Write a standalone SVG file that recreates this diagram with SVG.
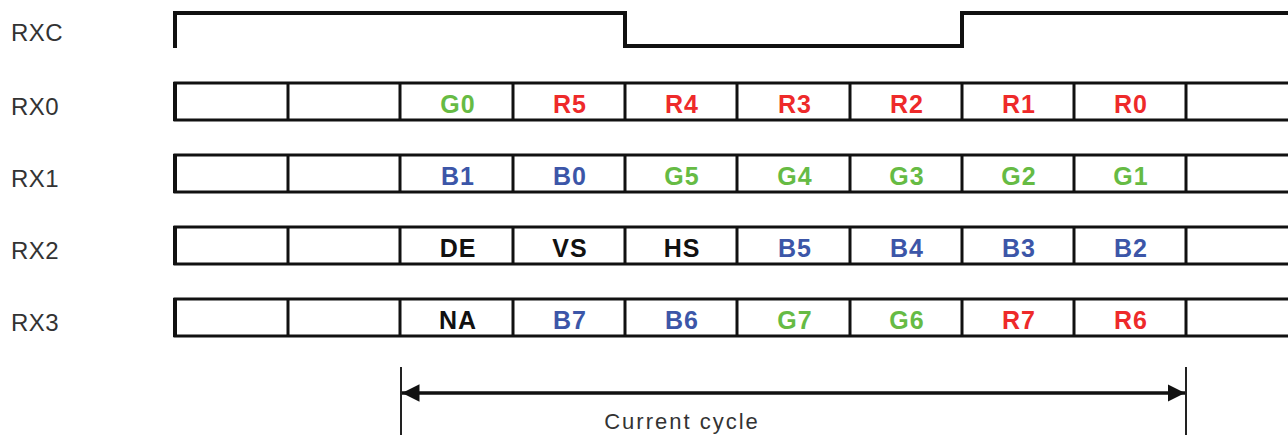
<svg xmlns="http://www.w3.org/2000/svg" width="1288" height="435" viewBox="0 0 1288 435">
  <style>
    .sig { font-family: "Liberation Sans", Arial, sans-serif; font-size: 24px; letter-spacing: 0.5px; fill: #333; }
    .cell { fill: none; stroke: #111; stroke-width: 3; }
    .edge { stroke: #111; stroke-width: 4; }
    .bit { font-family: "Liberation Sans", Arial, sans-serif; font-size: 25px; font-weight: bold; letter-spacing: 1px; text-anchor: middle; }
    .g { fill: #66bb44; }
    .r { fill: #ee2a2a; }
    .b { fill: #3c56a8; }
    .k { fill: #111; }
    .clk { fill: none; stroke: #111; stroke-width: 4; }
    .tick { stroke: #222; stroke-width: 2; }
    .span { stroke: #111; stroke-width: 3.5; }
    .caption { font-family: "Liberation Sans", Arial, sans-serif; font-size: 22px; letter-spacing: 2px; fill: #333; text-anchor: middle; }
  </style>
  <defs>
    <marker id="head" markerWidth="6" markerHeight="6" refX="5" refY="3" orient="auto-start-reverse" markerUnits="strokeWidth">
      <path d="M0,0.5 L5,3 L0,5.5 Z" fill="#111"/>
    </marker>
    <!-- one data lane: open-ended box with cell dividers -->
    <g id="lane">
      <path class="cell" d="M1288,0 H175 V37 H1288"/>
      <line class="edge" x1="175" y1="-1" x2="175" y2="38"/>
      <path class="cell" d="M288,0 V37 M400,0 V37 M513,0 V37 M625,0 V37 M737,0 V37 M850,0 V37 M962,0 V37 M1074,0 V37 M1186,0 V37"/>
    </g>
  </defs>

  <rect width="1288" height="435" fill="#fff"/>

  <!-- clock -->
  <g id="rxc">
    <text class="sig" x="11" y="41">RXC</text>
    <path class="clk" d="M175,48 V13 H625 V46 H962 V13 H1288"/>
  </g>

  <g id="rx0" transform="translate(0,83)">
    <use href="#lane"/>
    <text class="sig" x="11" y="32">RX0</text>
    <text class="bit g" x="458" y="30">G0</text>
    <text class="bit r" x="570" y="30">R5</text>
    <text class="bit r" x="682" y="30">R4</text>
    <text class="bit r" x="795" y="30">R3</text>
    <text class="bit r" x="907" y="30">R2</text>
    <text class="bit r" x="1019" y="30">R1</text>
    <text class="bit r" x="1131" y="30">R0</text>
  </g>

  <g id="rx1" transform="translate(0,155)">
    <use href="#lane"/>
    <text class="sig" x="11" y="32">RX1</text>
    <text class="bit b" x="458" y="30">B1</text>
    <text class="bit b" x="570" y="30">B0</text>
    <text class="bit g" x="682" y="30">G5</text>
    <text class="bit g" x="795" y="30">G4</text>
    <text class="bit g" x="907" y="30">G3</text>
    <text class="bit g" x="1019" y="30">G2</text>
    <text class="bit g" x="1131" y="30">G1</text>
  </g>

  <g id="rx2" transform="translate(0,227)">
    <use href="#lane"/>
    <text class="sig" x="11" y="32">RX2</text>
    <text class="bit k" x="458" y="30">DE</text>
    <text class="bit k" x="570" y="30">VS</text>
    <text class="bit k" x="682" y="30">HS</text>
    <text class="bit b" x="795" y="30">B5</text>
    <text class="bit b" x="907" y="30">B4</text>
    <text class="bit b" x="1019" y="30">B3</text>
    <text class="bit b" x="1131" y="30">B2</text>
  </g>

  <g id="rx3" transform="translate(0,299)">
    <use href="#lane"/>
    <text class="sig" x="11" y="32">RX3</text>
    <text class="bit k" x="458" y="30">NA</text>
    <text class="bit b" x="570" y="30">B7</text>
    <text class="bit b" x="682" y="30">B6</text>
    <text class="bit g" x="795" y="30">G7</text>
    <text class="bit g" x="907" y="30">G6</text>
    <text class="bit r" x="1019" y="30">R7</text>
    <text class="bit r" x="1131" y="30">R6</text>
  </g>

  <!-- cycle span -->
  <g id="connectors">
    <line class="tick" x1="401" y1="367" x2="401" y2="435"/>
    <line class="tick" x1="1186" y1="367" x2="1186" y2="435"/>
    <line class="span" x1="402" y1="393" x2="1185" y2="393" marker-start="url(#head)" marker-end="url(#head)"/>
  </g>
  <text class="caption" x="682" y="429">Current cycle</text>
</svg>
